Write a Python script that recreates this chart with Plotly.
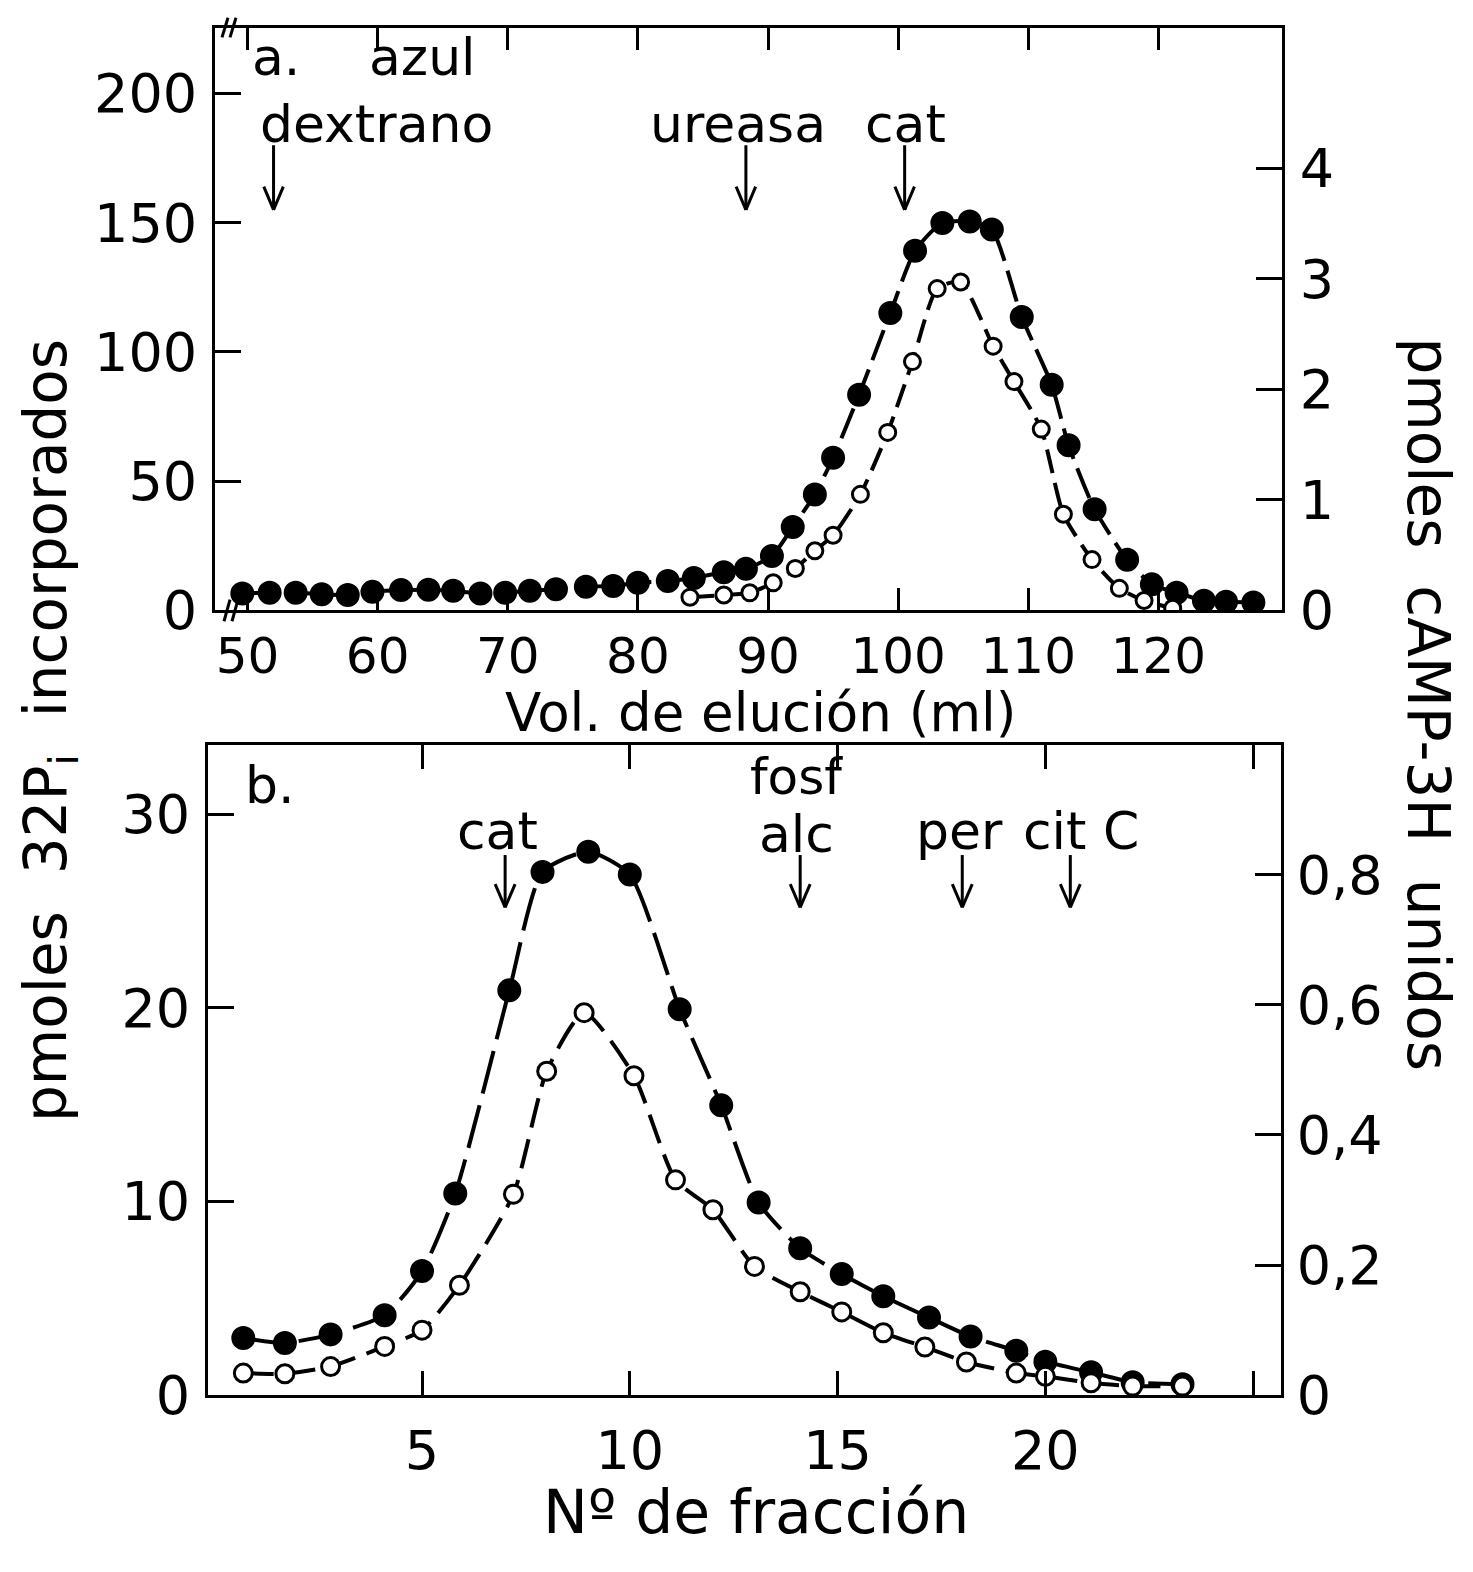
import plotly.graph_objects as go

W, H = 1473, 1572
FONT = "DejaVu Sans"

# ---------------- Panel a: Vol. de elución (ml) ----------------
a_fill_x = [49.6, 51.7, 53.7, 55.7, 57.7, 59.6, 61.8, 63.9, 65.8, 67.9, 69.8, 71.7, 73.7, 76.0,
            78.1, 80.0, 82.3, 84.3, 86.6, 88.3, 90.3, 91.9, 93.6, 95.0, 97.0, 99.4, 101.3, 103.4,
            105.5, 107.2, 109.5, 111.8, 113.1, 115.1, 117.6, 119.5, 121.4, 123.5, 125.2, 127.3]
a_fill_y = [6.6, 6.9, 6.9, 6.3, 6.0, 7.2, 7.9, 8.0, 7.6, 6.6, 6.9, 7.6, 8.2, 9.2,
            9.5, 10.7, 11.4, 12.6, 14.8, 16.1, 21.1, 32.3, 44.9, 59.1, 83.5, 115.1, 139.2, 149.9,
            150.5, 147.4, 113.5, 87.3, 63.9, 39.2, 19.6, 10.1, 6.9, 3.8, 3.4, 3.1]
a_open_x = [84.0, 86.6, 88.6, 90.4, 92.1, 93.6, 95.0, 97.1, 99.2, 101.1, 103.0, 104.8, 107.3,
            108.9, 111.0, 112.7, 114.9, 117.0, 118.9, 121.1]
a_open_y = [0.12, 0.14, 0.16, 0.25, 0.38, 0.54, 0.68, 1.05, 1.61, 2.25, 2.91, 2.97, 2.39,
            2.07, 1.64, 0.87, 0.46, 0.20, 0.09, 0.02]
a_xticks = [50, 60, 70, 80, 90, 100, 110, 120]
a_yticks_left = [0, 50, 100, 150, 200]
a_yticks_right = [0, 1, 2, 3, 4]
a_marker_names = ["azul dextrano", "ureasa", "cat"]
a_marker_x = [52.0, 88.3, 100.5]

# ---------------- Panel b: Nº de fracción ----------------
b_fill_x = [0.7, 1.7, 2.8, 4.1, 5.0, 5.8, 7.1, 7.9, 9.0, 10.0, 11.2, 12.2, 13.1, 14.1, 15.1,
            16.1, 17.2, 18.2, 19.3, 20.0, 21.1, 22.1, 23.3]
b_fill_y = [2.95, 2.70, 3.14, 4.13, 6.41, 10.42, 20.91, 27.03, 28.07, 26.89, 19.94, 14.97, 9.95,
            7.59, 6.26, 5.11, 4.01, 3.03, 2.29, 1.73, 1.18, 0.67, 0.56]
b_open_x = [0.7, 1.7, 2.8, 4.1, 5.0, 5.9, 7.2, 8.0, 8.9, 10.1, 11.1, 12.0, 13.0, 14.1, 15.1,
            16.1, 17.1, 18.1, 19.3, 20.0, 21.1, 22.1, 23.3]
b_open_y = [0.034, 0.033, 0.044, 0.075, 0.100, 0.169, 0.309, 0.498, 0.588, 0.491, 0.331, 0.285,
            0.198, 0.159, 0.128, 0.096, 0.074, 0.051, 0.034, 0.029, 0.019, 0.014, 0.014]
b_xticks = [5, 10, 15, 20, 25]
b_xticktext = ["5", "10", "15", "20", " "]
b_yticks_left = [0, 10, 20, 30]
b_yticks_right = [0, 0.2, 0.4, 0.6, 0.8]
b_yticktext_right = ["0", "0,2", "0,4", "0,6", "0,8"]
b_marker_names = ["cat", "fosf alc", "per", "cit C"]
b_marker_x = [7.0, 14.1, 18.0, 20.6]

fig = go.Figure()

def add_series(x, y, xa, ya, filled, dash, size):
    fig.add_trace(go.Scatter(
        x=x, y=y, xaxis=xa, yaxis=ya, mode="lines+markers",
        line=dict(color="black", width=4, dash=dash, shape="spline", smoothing=0.6),
        marker=dict(size=size, color="black" if filled else "white",
                    line=dict(color="black", width=3)),
        showlegend=False))

add_series(a_fill_x, a_fill_y, "x", "y", True, "32px,10px", 21)
add_series(a_open_x, a_open_y, "x", "y2", False, "24px,10px", 16)
add_series(b_fill_x, b_fill_y, "x2", "y3", True, "44px,12px", 21)
add_series(b_open_x, b_open_y, "x2", "y4", False, "30px,12px", 18)

tickfont = dict(family=FONT, size=54, color="black")
common = dict(showline=True, linewidth=3, linecolor="black", ticks="inside", tickwidth=3,
              tickcolor="black", showgrid=False, zeroline=False)

def px2x(px):
    return px / W

def px2y(py):
    return 1 - py / H

fig.update_layout(
    width=W, height=H, margin=dict(l=0, r=0, t=0, b=0),
    paper_bgcolor="white", plot_bgcolor="white",
    xaxis=dict(domain=[px2x(207), px2x(1274)], range=[47.5, 129.5], tickvals=a_xticks,
               ticklen=22, mirror="ticks", anchor="y", ticklabelstandoff=0,
               tickfont=dict(family=FONT, size=50, color="black"), **common),
    yaxis=dict(domain=[px2y(615), px2y(20)], range=[0, 225.5], tickvals=a_yticks_left,
               ticklen=26, anchor="x", ticklabelstandoff=4, tickfont=tickfont, **common),
    yaxis2=dict(range=[0, 5.27], tickvals=a_yticks_right, overlaying="y", side="right",
                ticklen=26, anchor="x", ticklabelstandoff=4, tickfont=tickfont, **common),
    xaxis2=dict(domain=[px2x(200), px2x(1273)], range=[-0.15, 25.67], tickvals=b_xticks,
                ticktext=b_xticktext, ticklen=24, mirror="ticks", anchor="y3",
                ticklabelstandoff=6, tickfont=tickfont, **common),
    yaxis3=dict(domain=[px2y(1416), px2y(752)], range=[0, 33.6], tickvals=b_yticks_left,
                ticklen=26, anchor="x2", ticklabelstandoff=4, tickfont=tickfont, **common),
    yaxis4=dict(range=[0, 1.0], tickvals=b_yticks_right, ticktext=b_yticktext_right,
                overlaying="y3", side="right", ticklen=26, anchor="x2",
                ticklabelstandoff=2, tickfont=tickfont, **common),
)

anns = []

def text_px(t, x, y, size=52, angle=0):
    anns.append(dict(text=t, x=px2x(x), y=px2y(y), xref="paper", yref="paper",
                     showarrow=False, xanchor="center", yanchor="middle", textangle=angle,
                     font=dict(family=FONT, size=size, color="black")))

# panel labels & marker names
text_px("a.", 268, 50)
text_px("azul", 414, 50)
text_px("dextrano", 369, 118)
text_px("ureasa", 730, 118)
text_px("cat", 897, 118)
text_px("b.", 262, 793)
text_px("cat", 489, 840)
text_px("fosf", 788, 785, size=50)
text_px("alc", 788, 843)
text_px("per", 951, 840)
text_px("cit C", 1073, 840)

# axis titles
text_px("Vol. de elución (ml)", 752, 719, size=53)
text_px("Nº de fracción", 748, 1535, size=60)
text_px("pmoles  32P<sub>i</sub>  incorporados", 42, 738, size=58, angle=-90)
text_px("pmoles  cAMP-3H  unidos", 1420, 710, size=58, angle=90)

fig.update_layout(annotations=anns)

shapes = []

def arrow(x, y_top, y_tip, dx, dy, xref, yref):
    ln = dict(color="black", width=3)
    shapes.append(dict(type="line", x0=x, x1=x, y0=y_top, y1=y_tip, xref=xref, yref=yref, line=ln))
    shapes.append(dict(type="line", x0=x - dx, x1=x, y0=y_tip + dy, y1=y_tip, xref=xref, yref=yref, line=ln))
    shapes.append(dict(type="line", x0=x + dx, x1=x, y0=y_tip + dy, y1=y_tip, xref=xref, yref=yref, line=ln))

for xv in a_marker_x:
    arrow(xv, 180.0, 155.0, 0.75, 9.0, "x", "y")
for xv in b_marker_x:
    arrow(xv, 27.9, 25.2, 0.24, 1.2, "x2", "y3")

# axis break marks
def slash(x0, y0, x1, y1):
    shapes.append(dict(type="line", xref="paper", yref="paper", x0=px2x(x0), y0=px2y(y0),
                       x1=px2x(x1), y1=px2y(y1), line=dict(color="black", width=3)))

slash(214, 30, 220, 10)
slash(222, 30, 228, 10)
slash(216, 626, 222, 604)
slash(224, 626, 230, 604)

fig.update_layout(shapes=shapes)

fig.write_html("out.html")
